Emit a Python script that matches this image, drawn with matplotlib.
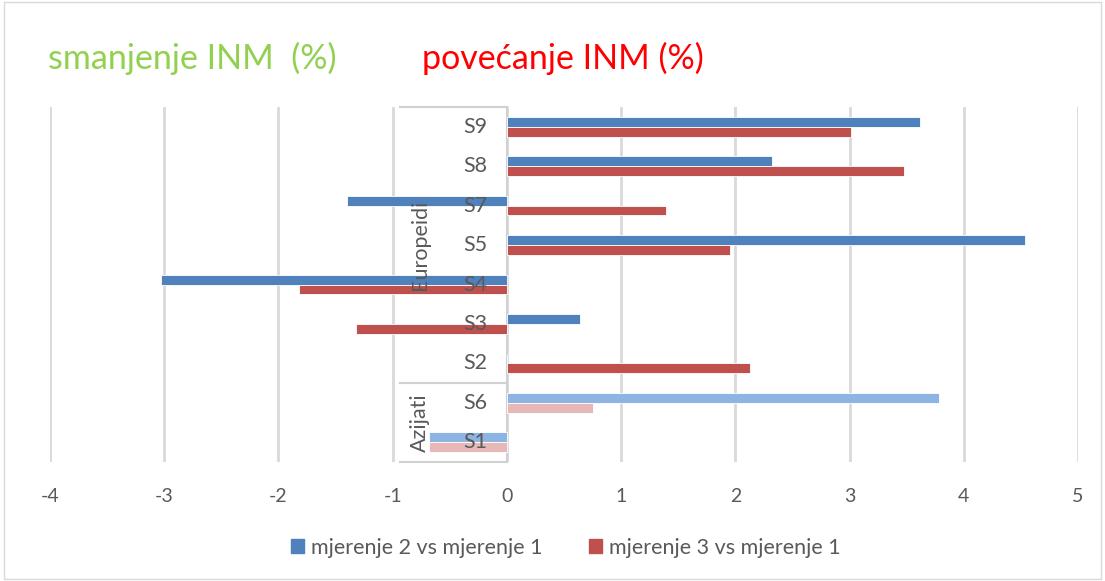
import matplotlib.pyplot as plt
from matplotlib.patches import Patch, Rectangle
import numpy as np

#DATA-------------------
categories = ["S1", "S6", "S2", "S3", "S4", "S5", "S7", "S8", "S9"]
mj2_vs_mj1 = [-0.68, 3.78, 0.0, 0.64, -3.03, 4.54, -1.40, 2.32, 3.62]
mj3_vs_mj1 = [-0.68, 0.75, 2.13, -1.32, -1.82, 1.95, 1.39, 3.48, 3.01]
groups = [("Azijati", 2), ("Europeidi", 7)]   # bottom to top
series_names = ["mjerenje 2 vs mjerenje 1", "mjerenje 3 vs mjerenje 1"]
xticks = [-4, -3, -2, -1, 0, 1, 2, 3, 4, 5]
#------------------------

plt.rcParams['font.family'] = ['Lato', 'DejaVu Sans']

blue, red = '#4F81BD', '#C0504D'
blue_l, red_l = '#8DB4E2', '#E6B9B8'
txt = '#595959'

fig = plt.figure(figsize=(11.05, 5.81), dpi=100)
ax = fig.add_axes([0.04525, 0.2048, 0.9303, 0.611])

y = np.arange(len(categories))
n_asia = groups[0][1]
c_blue = [blue_l if i < n_asia else blue for i in y]
c_red = [red_l if i < n_asia else red for i in y]
h = 0.25
ax.barh(y + h/2, mj2_vs_mj1, height=h, color=c_blue, edgecolor='white', linewidth=0.6, zorder=2)
ax.barh(y - h/2, mj3_vs_mj1, height=h, color=c_red, edgecolor='white', linewidth=0.6, zorder=2)

ax.set_xlim(-4, 5)
ax.set_ylim(-0.5, len(categories) - 0.5)
ax.set_xticks(xticks)
ax.set_xticklabels([str(t) for t in xticks], color=txt, fontsize=14)
ax.tick_params(axis='x', length=0, pad=19)
ax.set_yticks([])
for s in ax.spines.values():
    s.set_visible(False)
ax.grid(axis='x', color='#d9d9d9', linewidth=2, zorder=0)
ax.set_axisbelow(True)

# category axis in the middle
ax.axvline(0, color='#d0d0d0', linewidth=1.5, zorder=1)
for i, c in enumerate(categories):
    ax.annotate(c, (0, i), xytext=(-14, 0), textcoords='offset points',
                ha='right', va='center', color=txt, fontsize=15.5, zorder=5)

start = -0.5
bounds = [start]
for name, cnt in groups:
    mid = start + cnt / 2
    ax.text(-0.76, mid, name, rotation=90, ha='center', va='center',
            color=txt, fontsize=15.5, zorder=5)
    start += cnt
    bounds.append(start)
for b in bounds:
    ax.plot([-0.94, 0], [b, b], color='#d0d0d0', linewidth=1.5, zorder=1, clip_on=False)

# headers
fig.text(0.043, 0.9, "smanjenje INM  (%)", color='#92D050', fontsize=24.5, va='center')
fig.text(0.382, 0.9, "povećanje INM (%)", color='#FF0000', fontsize=24.5, va='center')

handles = [Patch(color=blue), Patch(color=red)]
fig.legend(handles, series_names, loc='center', bbox_to_anchor=(0.512, 0.057), ncol=2,
           frameon=False, fontsize=15.5, labelcolor=txt, handlelength=0.6, handleheight=0.6,
           handletextpad=0.3, columnspacing=2.2)

fig.patches.append(Rectangle((0.004, 0.004), 0.992, 0.992, transform=fig.transFigure,
                             fill=False, edgecolor='#d9d9d9', linewidth=1))

plt.savefig('out.png', dpi=100)
